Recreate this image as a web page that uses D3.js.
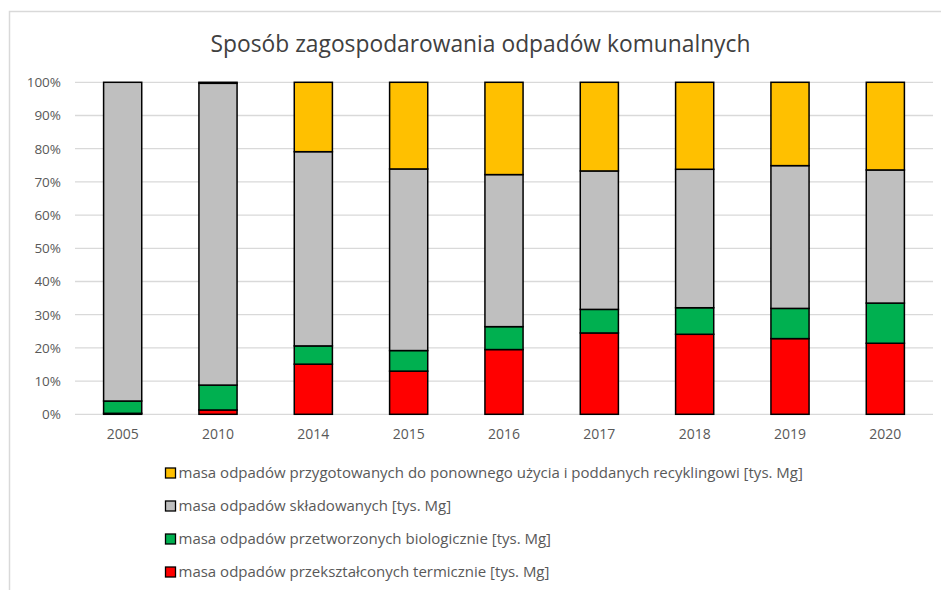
<!DOCTYPE html>
<html><head><meta charset="utf-8">
<script src="https://cdn.jsdelivr.net/npm/d3@7"></script>
<style>body{margin:0;background:#fff;} text{font-family:"Open Sans",sans-serif;}</style>
</head><body>
<svg id="c" width="941" height="590"></svg>
<script>
const years = ["2005","2010","2014","2015","2016","2017","2018","2019","2020"];
// shares in %
const termicznie = [0.3, 1.3, 15.1, 13.0, 19.5, 24.5, 24.1, 22.8, 21.4];
const biologicznie = [3.7, 7.5, 5.5, 6.2, 6.9, 7.1, 8.0, 9.1, 12.1];
const skladowane = [96.0, 90.9, 58.5, 54.7, 45.8, 41.7, 41.7, 43.0, 40.1];
const recykling = [0.0, 0.3, 20.9, 26.1, 27.8, 26.7, 26.2, 25.1, 26.4];
const yTicks = [0,10,20,30,40,50,60,70,80,90,100];
const title = "Sposób zagospodarowania odpadów komunalnych";
const seriesNames = [
  "masa odpadów przekształconych termicznie [tys. Mg]",
  "masa odpadów przetworzonych biologicznie [tys. Mg]",
  "masa odpadów składowanych [tys. Mg]",
  "masa odpadów przygotowanych do ponownego użycia i poddanych recyklingowi [tys. Mg]"
];
const colors = ["#FF0000","#00B050","#BFBFBF","#FFC000"];

const svg = d3.select("#c");
svg.append("rect").attr("x",9.5).attr("y",11.5).attr("width",960).attr("height",620)
  .attr("fill","none").attr("stroke","#D9D9D9").attr("stroke-width",1.5);

svg.append("text").attr("x",480.5).attr("y",52).attr("text-anchor","middle")
  .attr("font-size",22.8).attr("fill","#404040").text(title);

const x = d3.scaleBand().domain(years).range([75,933]).paddingInner(0.6).paddingOuter(0.3);
const y = d3.scaleLinear().domain([0,100]).range([414.3,82.3]);

svg.append("g").selectAll("line").data(yTicks).join("line")
  .attr("x1",75).attr("x2",933).attr("y1",d=>y(d)).attr("y2",d=>y(d))
  .attr("stroke","#D9D9D9").attr("stroke-width",1.3);

const yAxis = d3.axisLeft(y).tickValues(yTicks).tickFormat(d=>d+"%").tickSize(0).tickPadding(0);
const gy = svg.append("g").attr("transform","translate(61,0)").call(yAxis);
gy.select(".domain").remove();
gy.selectAll("text").attr("font-size",13.5).attr("fill","#595959").attr("font-family","Open Sans, sans-serif");

const xAxis = d3.axisBottom(x).tickSize(0).tickPadding(0);
const gx = svg.append("g").attr("transform","translate(0,429)").call(xAxis);
gx.select(".domain").remove();
gx.selectAll("text").attr("font-size",14).attr("fill","#595959").attr("font-family","Open Sans, sans-serif");

const rows = years.map((yr,i)=>({year:yr, s0:termicznie[i], s1:biologicznie[i], s2:skladowane[i], s3:recykling[i]}));
const stack = d3.stack().keys(["s0","s1","s2","s3"])(rows);
svg.append("g").selectAll("g").data(stack).join("g")
  .attr("fill",(d,i)=>colors[i])
  .selectAll("rect").data(d=>d.filter(p=>p[1]-p[0]>0)).join("rect")
  .attr("x",d=>x(d.data.year)).attr("width",x.bandwidth())
  .attr("y",d=>y(d[1])).attr("height",d=>y(d[0])-y(d[1]))
  .attr("stroke","#000").attr("stroke-width",1.5);

const legOrder = [3,2,1,0];
const lg = svg.append("g").selectAll("g").data(legOrder).join("g")
  .attr("transform",(d,i)=>`translate(165,${473+i*33})`);
lg.append("rect").attr("x",0.5).attr("y",-5).attr("width",10).attr("height",10)
  .attr("fill",d=>colors[d]).attr("stroke","#000").attr("stroke-width",1.3);
lg.append("text").attr("x",13.5).attr("y",5.3).attr("font-size",15).attr("fill","#595959")
  .text(d=>seriesNames[d]);
</script>
</body></html>
